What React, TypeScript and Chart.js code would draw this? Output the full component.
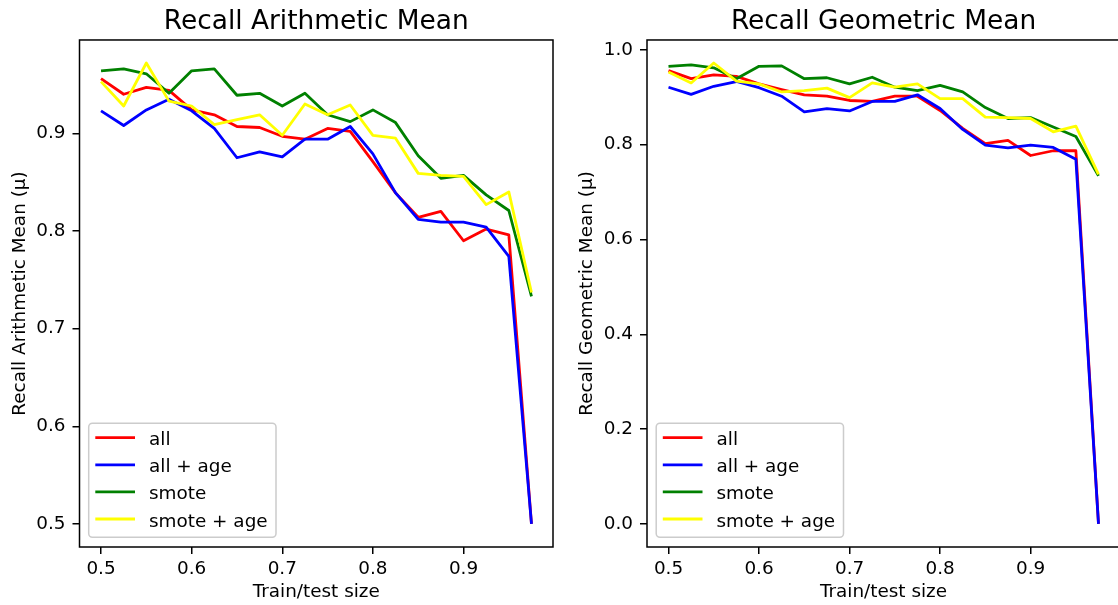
import React, { useEffect, useRef } from 'react';
import { Chart, registerables } from 'chart.js';

Chart.register(...registerables);

// ---------- data ----------
const trainTestSizes = [0.5, 0.525, 0.55, 0.575, 0.6, 0.625, 0.65, 0.675, 0.7, 0.725, 0.75, 0.775, 0.8, 0.825, 0.85, 0.875, 0.9, 0.925, 0.95, 0.975];

const arithAll = [0.956, 0.940, 0.947, 0.944, 0.924, 0.919, 0.907, 0.906, 0.897, 0.894, 0.905, 0.902, 0.871, 0.839, 0.814, 0.820, 0.790, 0.802, 0.796, 0.5];
const arithAllAge = [0.923, 0.908, 0.924, 0.935, 0.923, 0.905, 0.875, 0.881, 0.876, 0.894, 0.894, 0.907, 0.879, 0.839, 0.812, 0.809, 0.809, 0.804, 0.774, 0.5];
const arithSmote = [0.964, 0.966, 0.961, 0.941, 0.964, 0.966, 0.939, 0.941, 0.928, 0.941, 0.919, 0.912, 0.924, 0.911, 0.877, 0.854, 0.857, 0.837, 0.821, 0.733];
const arithSmoteAge = [0.953, 0.928, 0.972, 0.933, 0.928, 0.909, 0.914, 0.919, 0.898, 0.930, 0.919, 0.929, 0.898, 0.895, 0.859, 0.857, 0.856, 0.827, 0.840, 0.737];

const geoAll = [0.956, 0.939, 0.947, 0.944, 0.928, 0.916, 0.905, 0.902, 0.893, 0.891, 0.902, 0.902, 0.872, 0.834, 0.802, 0.809, 0.777, 0.787, 0.787, 0.0];
const geoAllAge = [0.921, 0.906, 0.923, 0.933, 0.920, 0.902, 0.869, 0.876, 0.871, 0.891, 0.891, 0.905, 0.876, 0.832, 0.799, 0.793, 0.799, 0.794, 0.769, 0.0];
const geoSmote = [0.965, 0.968, 0.962, 0.939, 0.965, 0.966, 0.939, 0.941, 0.928, 0.942, 0.921, 0.914, 0.925, 0.911, 0.878, 0.855, 0.857, 0.837, 0.817, 0.734];
const geoSmoteAge = [0.953, 0.930, 0.972, 0.934, 0.928, 0.911, 0.914, 0.919, 0.899, 0.930, 0.921, 0.928, 0.897, 0.897, 0.858, 0.857, 0.855, 0.827, 0.839, 0.737];

const seriesLabels = ['all', 'all + age', 'smote', 'smote + age'];
const seriesColors = ['#ff0000', '#0000ff', '#008000', '#ffff00'];

const xTickValues = [0.5, 0.6, 0.7, 0.8, 0.9];
const yTicksArith = [0.5, 0.6, 0.7, 0.8, 0.9];
const yTicksGeo = [0.0, 0.2, 0.4, 0.6, 0.8, 1.0];

const leftTitle = 'Recall Arithmetic Mean';
const rightTitle = 'Recall Geometric Mean';
const leftYLabel = 'Recall Arithmetic Mean (μ)';
const rightYLabel = 'Recall Geometric Mean (μ)';
const xLabel = 'Train/test size';

// ---------- styling ----------
const FONT = 'DejaVu Sans';
const BASE = 18.4;
const TITLE_SIZE = 26.4;

const framePlugin = {
  id: 'mplFrame',
  afterDraw(chart: any) {
    const { ctx, chartArea: a } = chart;
    ctx.save();
    ctx.strokeStyle = '#000';
    ctx.lineWidth = 1.5;
    ctx.strokeRect(a.left, a.top, a.right - a.left, a.bottom - a.top);
    ctx.restore();
  },
};

const legendPlugin = {
  id: 'mplLegend',
  afterDraw(chart: any) {
    const { ctx, chartArea: a } = chart;
    const w = 187.3;
    const h = 114;
    const x0 = a.left + 9.2;
    const y0 = a.bottom - 9.7 - h;
    ctx.save();
    ctx.beginPath();
    if ((ctx as any).roundRect) (ctx as any).roundRect(x0, y0, w, h, 3.7);
    else ctx.rect(x0, y0, w, h);
    ctx.fillStyle = 'rgba(255,255,255,0.8)';
    ctx.fill();
    ctx.strokeStyle = '#cccccc';
    ctx.lineWidth = 1.5;
    ctx.stroke();
    ctx.font = `${BASE}px "${FONT}"`;
    ctx.textAlign = 'left';
    ctx.textBaseline = 'alphabetic';
    chart.data.datasets.forEach((ds: any, i: number) => {
      const cy = y0 + 14.4 + i * 27.1;
      ctx.beginPath();
      ctx.strokeStyle = ds.borderColor;
      ctx.lineWidth = 2.8;
      ctx.moveTo(x0 + 6.6, cy);
      ctx.lineTo(x0 + 46.3, cy);
      ctx.stroke();
      ctx.fillStyle = '#000';
      ctx.fillText(ds.label, x0 + 60.3, cy + 7.5);
    });
    ctx.restore();
  },
};

function buildConfig(
  title: string,
  yLabel: string,
  series: number[][],
  yTicks: number[],
  yMin: number,
  yMax: number,
  yAxisWidth: number,
  yTitlePad: number,
  padRight: number
) {
  const datasets = series.map((vals, i) => ({
    label: seriesLabels[i],
    data: trainTestSizes.map((x, j) => ({ x, y: vals[j] })),
    borderColor: seriesColors[i],
    backgroundColor: seriesColors[i],
    borderWidth: 2.8,
    pointRadius: 0,
    tension: 0,
    fill: false,
    borderJoinStyle: 'round',
    order: series.length - i,
  }));
  const tickFont = { family: FONT, size: BASE };
  return {
    type: 'line',
    data: { datasets },
    options: {
      animation: false,
      responsive: false,
      maintainAspectRatio: false,
      devicePixelRatio: 1,
      layout: { padding: { left: 0, right: padRight, top: 0, bottom: 0 } },
      plugins: {
        legend: { display: false },
        tooltip: { enabled: false },
        title: {
          display: true,
          text: title,
          fullSize: false,
          color: '#000',
          font: { family: FONT, size: TITLE_SIZE, weight: 'normal' },
          padding: { top: 6.4, bottom: 1.9 },
        },
      },
      scales: {
        x: {
          type: 'linear',
          position: 'bottom',
          min: 0.47625,
          max: 0.99875,
          afterBuildTicks: (s: any) => {
            s.ticks = xTickValues.map((v) => ({ value: v }));
          },
          afterFit: (s: any) => {
            s.height = 58;
          },
          ticks: {
            autoSkip: false,
            maxRotation: 0,
            color: '#000',
            font: tickFont,
            padding: 4,
            callback: (v: any) => Number(v).toFixed(1),
          },
          grid: {
            display: true,
            drawOnChartArea: false,
            drawTicks: true,
            tickLength: 7,
            color: '#000',
            lineWidth: 1.5,
          },
          border: { display: false },
          title: {
            display: true,
            text: xLabel,
            color: '#000',
            font: tickFont,
            padding: { top: 0, bottom: 1.5 },
          },
        },
        y: {
          type: 'linear',
          position: 'left',
          min: yMin,
          max: yMax,
          afterBuildTicks: (s: any) => {
            s.ticks = yTicks.map((v) => ({ value: v }));
          },
          afterFit: (s: any) => {
            s.width = yAxisWidth;
          },
          ticks: {
            autoSkip: false,
            color: '#000',
            font: tickFont,
            padding: 7,
            callback: (v: any) => Number(v).toFixed(1),
          },
          grid: {
            display: true,
            drawOnChartArea: false,
            drawTicks: true,
            tickLength: 7,
            color: '#000',
            lineWidth: 1.5,
          },
          border: { display: false },
          title: {
            display: true,
            text: yLabel,
            color: '#000',
            font: tickFont,
            padding: { top: yTitlePad, bottom: 0 },
          },
        },
      },
    },
    plugins: [framePlugin, legendPlugin],
  };
}

function ChartCanvas({ makeConfig, left, width }: { makeConfig: () => any; left: number; width: number }) {
  const ref = useRef<HTMLCanvasElement | null>(null);
  useEffect(() => {
    if (!ref.current) return;
    const chart = new Chart(ref.current, makeConfig() as any);
    return () => chart.destroy();
  }, []);
  return (
    <canvas
      ref={ref}
      width={width}
      height={605}
      style={{ position: 'absolute', left, top: 0, width, height: 605 }}
    />
  );
}

export default function App() {
  return (
    <div
      style={{
        position: 'fixed',
        left: 0,
        top: 0,
        width: 1118,
        height: 605,
        overflow: 'hidden',
        background: '#fff',
      }}
    >
      <ChartCanvas
        left={0}
        width={560}
        makeConfig={() =>
          buildConfig(
            leftTitle,
            leftYLabel,
            [arithAll, arithAllAge, arithSmote, arithSmoteAge],
            yTicksArith,
            0.4764,
            0.9956,
            79.5,
            9,
            7
          )
        }
      />
      <ChartCanvas
        left={560}
        width={566}
        makeConfig={() =>
          buildConfig(
            rightTitle,
            rightYLabel,
            [geoAll, geoAllAge, geoSmote, geoSmoteAge],
            yTicksGeo,
            -0.0486,
            1.0206,
            87,
            16,
            6
          )
        }
      />
    </div>
  );
}
